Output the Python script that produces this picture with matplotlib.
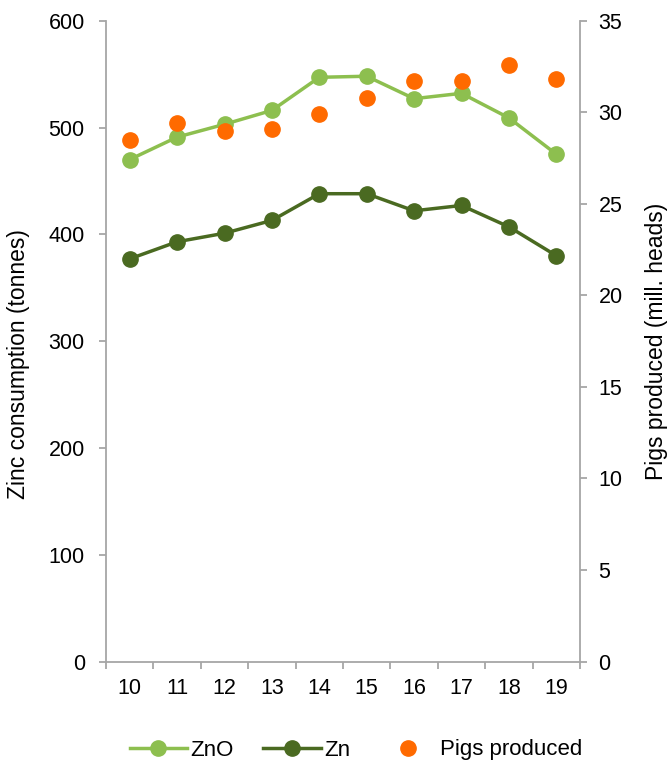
import matplotlib
matplotlib.use("Agg")
import matplotlib.pyplot as plt
from matplotlib.lines import Line2D
from matplotlib.ticker import FixedLocator, MultipleLocator

# Zinc consumption in pig production and number of pigs produced
years = ["10", "11", "12", "13", "14", "15", "16", "17", "18", "19"]
zno_tonnes = [470, 491, 503, 516, 547, 548, 527, 532, 509, 475]
zn_tonnes = [377, 393, 401, 413, 438, 438, 422, 427, 407, 380]
pigs_mill = [28.5, 29.4, 29.0, 29.1, 29.9, 30.8, 31.7, 31.7, 32.6, 31.8]

ZNO_COLOR = "#8DBF4F"
ZN_COLOR = "#4A6A21"
PIG_COLOR = "#FF6A00"
AXIS_COLOR = "#A6A6A6"

plt.rcParams["font.family"] = ["Liberation Sans", "DejaVu Sans"]

W, H = 667, 764
fig = plt.figure(figsize=(W / 100, H / 100), dpi=100)
left, right, top, bottom = 106, 580, 20.7, 661.5
ax = fig.add_axes([left / W, 1 - bottom / H, (right - left) / W, (bottom - top) / H])
ax2 = ax.twinx()

x = list(range(len(years)))
ax.plot(x, zno_tonnes, color=ZNO_COLOR, lw=2.5, marker="o", ms=11, zorder=3)
ax.plot(x, zn_tonnes, color=ZN_COLOR, lw=2.5, marker="o", ms=11, zorder=3)
ax2.plot(x, pigs_mill, ls="none", marker="o", ms=11, color=PIG_COLOR, mec=PIG_COLOR)

ax.set_xlim(-0.5, len(years) - 0.5)
ax.set_ylim(0, 600)
ax2.set_ylim(0, 35)
ax.yaxis.set_major_locator(MultipleLocator(100))
ax2.yaxis.set_major_locator(MultipleLocator(5))

ax.set_xticks(x)
ax.set_xticklabels(years)
ax.xaxis.set_minor_locator(FixedLocator([i - 0.5 for i in range(len(years) + 1)]))

for a in (ax, ax2):
    for s in a.spines.values():
        s.set_visible(False)
ax.spines["left"].set_visible(True)
ax.spines["bottom"].set_visible(True)
ax2.spines["right"].set_visible(True)
for s in (ax.spines["left"], ax.spines["bottom"], ax2.spines["right"]):
    s.set_color(AXIS_COLOR)
    s.set_linewidth(1.3)

tick_fs = 15.5
ax.tick_params(axis="x", which="major", length=0, pad=12, labelsize=tick_fs)
ax.tick_params(axis="x", which="minor", length=4.8, width=1.3, color=AXIS_COLOR, direction="out")
ax.tick_params(axis="y", length=4.8, width=1.3, color=AXIS_COLOR, pad=10.5, labelsize=tick_fs)
ax2.tick_params(axis="y", length=4.8, width=1.3, color=AXIS_COLOR, pad=8.5, labelsize=tick_fs)

fig.text(19 / W, 1 - 364 / H, "Zinc consumption (tonnes)", rotation=90,
         ha="center", va="center", fontsize=16.5)
fig.text(656 / W, 1 - 341 / H, "Pigs produced (mill. heads)", rotation=90,
         ha="center", va="center", fontsize=16.5)

handles = [
    Line2D([], [], color=ZNO_COLOR, lw=2.5, marker="o", ms=11),
    Line2D([], [], color=ZN_COLOR, lw=2.5, marker="o", ms=11),
    Line2D([], [], ls="none", marker="o", ms=11, color=PIG_COLOR),
]
fig.legend(handles, ["ZnO", "Zn", "Pigs produced"], loc="center",
           bbox_to_anchor=(356 / W, 1 - 750 / H), ncol=3, frameon=False,
           fontsize=16, handlelength=2.6, handletextpad=0.15, columnspacing=1.3,
           borderpad=0, borderaxespad=0)

fig.savefig("out.png", dpi=100)
